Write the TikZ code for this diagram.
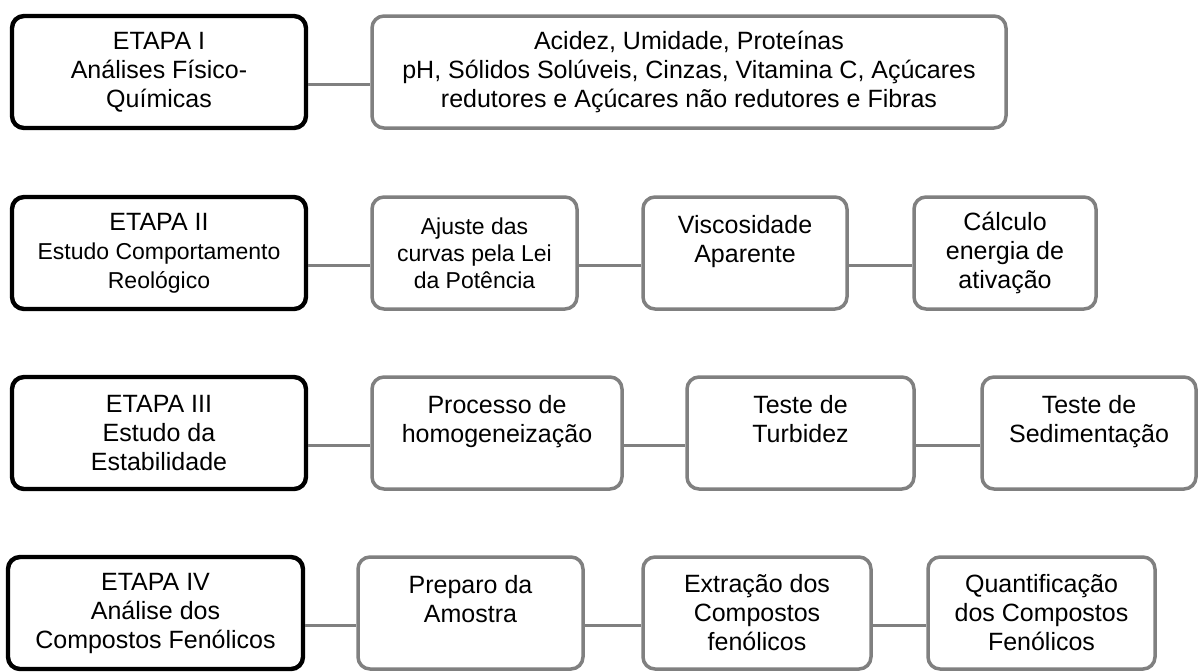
\documentclass[tikz,border=0pt]{standalone}
\usepackage{fontspec}
\setmainfont{Liberation Sans}
\definecolor{boxgray}{RGB}{128,128,128}
\newcommand{\menor}{\fontsize{11.5}{13.5}\selectfont}
\tikzset{
  etapa/.style={draw=black, line width=2.2pt, rounded corners=6pt, align=center, minimum height=56pt, minimum width=147pt, font=\fontsize{12.5}{14.5}\selectfont},
  caixa/.style={draw=boxgray, line width=1.75pt, rounded corners=6pt, align=center, minimum height=56pt, font=\fontsize{12.5}{14.5}\selectfont},
  liga/.style={draw=boxgray, line width=1.5pt}
}
\begin{document}
\begin{tikzpicture}[x=0.5pt, y=-0.5pt]
\useasboundingbox (0,0) rectangle (1199,671);

% etapa I
\node[etapa] (E1) at (159,72) {ETAPA I\\Análises Físico-\\Químicas};
\node[caixa, minimum width=317pt] (R1) at (689,72) {Acidez, Umidade, Proteínas\\pH, Sólidos Solúveis, Cinzas, Vitamina C, Açúcares\\redutores e Açúcares não redutores e Fibras};

% etapa II
\node[etapa] (E2) at (159,253) {ETAPA II\\\menor Estudo Comportamento\\\menor Reológico};
\node[caixa, minimum width=102.5pt, font=\menor] (A2) at (474.5,253) {Ajuste das\\curvas pela Lei\\da Potência};
\node[caixa, minimum width=102pt] (V2) at (745,253) {Viscosidade\\Aparente\\\mbox{}};
\node[caixa, minimum width=91pt] (C2) at (1005,253) {Cálculo\\energia de\\ativação};

% etapa III
\node[etapa] (E3) at (159,433) {ETAPA III\\Estudo da\\Estabilidade};
\node[caixa, minimum width=125pt] (P3) at (497,433) {Processo de\\homogeneização\\\mbox{}};
\node[caixa, minimum width=113.5pt] (T3) at (800.5,433) {Teste de\\Turbidez\\\mbox{}};
\node[caixa, minimum width=107pt] (S3) at (1089,433) {Teste de\\Sedimentação\\\mbox{}};

% etapa IV
\node[etapa, minimum width=147.5pt] (E4) at (155.5,613) {ETAPA IV\\Análise dos\\Compostos Fenólicos};
\node[caixa, minimum width=112.5pt] (P4) at (470.5,613) {Preparo da\\Amostra\\\mbox{}};
\node[caixa, minimum width=114pt] (X4) at (757,613) {Extração dos\\Compostos\\fenólicos};
\node[caixa, minimum width=113.5pt] (Q4) at (1041.5,613) {Quantificação\\dos Compostos\\Fenólicos};

\foreach \a/\b in {E1/R1, E2/A2, A2/V2, V2/C2, E3/P3, P3/T3, T3/S3, E4/P4, P4/X4, X4/Q4}{
	\draw[liga] ([yshift=-6pt]\a.east) -- ([yshift=-6pt]\b.west);
}
\end{tikzpicture}
\end{document}
